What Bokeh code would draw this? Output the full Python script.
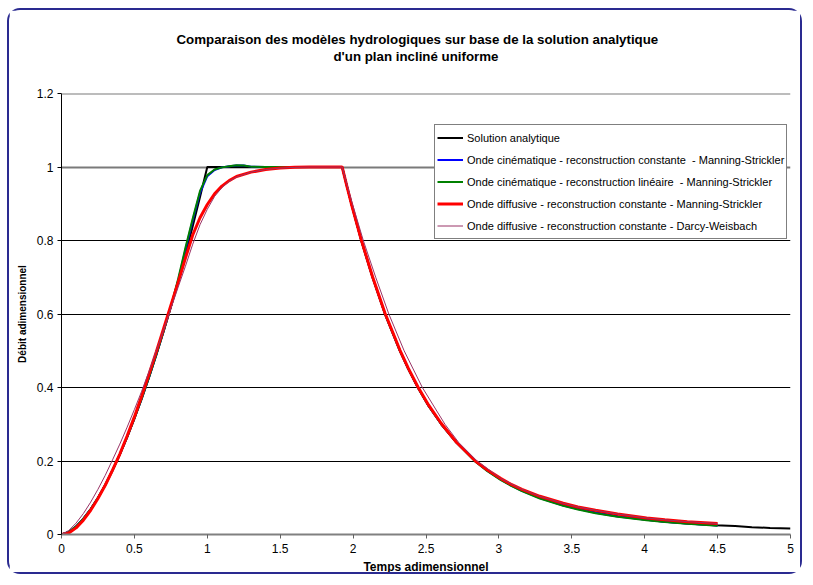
from bokeh.plotting import figure
from bokeh.models import Range1d, Title, CustomJSTickFormatter, FixedTicker, Grid, Span
from bokeh.embed import file_html
from bokeh.resources import INLINE

# ---------------- data ----------------
title_line1 = "Comparaison des modèles hydrologiques sur base de la solution analytique"
title_line2 = "d'un plan incliné uniforme"
x_label = "Temps adimensionnel"
y_label = "Débit adimensionnel"

x_ticks = [0, 0.5, 1, 1.5, 2, 2.5, 3, 3.5, 4, 4.5, 5]
y_ticks = [0, 0.2, 0.4, 0.6, 0.8, 1.0, 1.2]
grid_dark = [0.2, 0.4, 0.6, 0.8]
grid_grey = [1.0]
y_top = 1.2

names = [
    "Solution analytique",
    "Onde cinématique - reconstruction constante  - Manning-Strickler",
    "Onde cinématique - reconstruction linéaire  - Manning-Strickler",
    "Onde diffusive - reconstruction constante - Manning-Strickler",
    "Onde diffusive - reconstruction constante - Darcy-Weisbach",
]

# Solution analytique
t_ana = [0, 0.05, 0.1, 0.15, 0.2, 0.25, 0.3, 0.35, 0.4, 0.45, 0.5, 0.55, 0.6, 0.65, 0.7,
         0.75, 0.8, 0.85, 0.9, 0.95, 1.0, 1.925, 1.956, 1.988, 2.056, 2.133, 2.219, 2.321,
         2.379, 2.444, 2.518, 2.605, 2.709, 2.839, 2.919, 3.014, 3.081, 3.158, 3.281, 3.441,
         3.542, 3.663, 3.814, 4.013, 4.138, 4.292, 4.485, 4.62, 4.735, 4.86, 5.0]
q_ana = [0, 0.0068, 0.0215, 0.0423, 0.0684, 0.0992, 0.1345, 0.1738, 0.2172, 0.2642, 0.315,
         0.3692, 0.4268, 0.4877, 0.5519, 0.6191, 0.6894, 0.7627, 0.839, 0.9181, 1.0, 1.0,
         0.95, 0.9, 0.8, 0.7, 0.6, 0.5, 0.45, 0.4, 0.35, 0.3, 0.25, 0.2, 0.175, 0.15, 0.135,
         0.12, 0.1, 0.08, 0.07, 0.06, 0.05, 0.04, 0.035, 0.03, 0.025, 0.023, 0.02, 0.018, 0.0162]

# Onde cinématique - reconstruction constante
t_kin_c = [0, 0.05, 0.1, 0.15, 0.2, 0.25, 0.3, 0.35, 0.4, 0.45, 0.5, 0.55, 0.6, 0.65, 0.7,
           0.75, 0.8, 0.85, 0.9, 0.95, 1.0, 1.05, 1.1, 1.15, 1.2, 1.25, 1.3, 1.4, 1.925,
           1.956, 1.988, 2.056, 2.133, 2.219, 2.321, 2.379, 2.444, 2.518, 2.605, 2.709, 2.839,
           2.919, 3.014, 3.081, 3.158, 3.281, 3.441, 3.542, 3.663, 3.814, 4.013, 4.138, 4.292,
           4.5]
q_kin_c = [0, 0.007, 0.022, 0.043, 0.069, 0.1, 0.135, 0.175, 0.218, 0.265, 0.316, 0.37,
           0.428, 0.489, 0.553, 0.62, 0.69, 0.775, 0.855, 0.93, 0.975, 0.992, 0.999, 1.002,
           1.004, 1.004, 1.001, 1.0, 1.0, 0.95, 0.9, 0.8, 0.7, 0.6, 0.5, 0.45, 0.4, 0.35, 0.3,
           0.25, 0.199, 0.174, 0.149, 0.134, 0.119, 0.099, 0.079, 0.069, 0.059, 0.049, 0.04,
           0.035, 0.03, 0.0245]

# Onde cinématique - reconstruction linéaire
t_kin_l = [0, 0.05, 0.1, 0.15, 0.2, 0.25, 0.3, 0.35, 0.4, 0.45, 0.5, 0.55, 0.6, 0.65, 0.7,
           0.75, 0.8, 0.85, 0.9, 0.95, 1.0, 1.05, 1.1, 1.15, 1.2, 1.25, 1.3, 1.4, 1.925,
           1.956, 1.988, 2.056, 2.133, 2.219, 2.321, 2.379, 2.444, 2.518, 2.605, 2.709, 2.839,
           2.919, 3.014, 3.081, 3.158, 3.281, 3.441, 3.542, 3.663, 3.814, 4.013, 4.138, 4.292,
           4.5]
q_kin_l = [0, 0.007, 0.022, 0.043, 0.069, 0.1, 0.135, 0.175, 0.218, 0.265, 0.316, 0.37,
           0.428, 0.489, 0.553, 0.62, 0.695, 0.78, 0.86, 0.935, 0.978, 0.993, 0.999, 1.002,
           1.005, 1.004, 1.001, 1.0, 1.0, 0.95, 0.9, 0.8, 0.7, 0.6, 0.5, 0.45, 0.4, 0.35, 0.3,
           0.25, 0.198, 0.173, 0.148, 0.133, 0.118, 0.098, 0.078, 0.068, 0.058, 0.048, 0.039,
           0.034, 0.029, 0.024]

# Onde diffusive - reconstruction constante - Manning-Strickler
t_dif_m = [0, 0.05, 0.1, 0.15, 0.2, 0.25, 0.3, 0.35, 0.4, 0.45, 0.5, 0.55, 0.6, 0.65, 0.7,
           0.75, 0.8, 0.85, 0.9, 0.95, 1.0, 1.05, 1.1, 1.15, 1.2, 1.3, 1.4, 1.5, 1.6, 1.7,
           1.925, 1.956, 1.988, 2.056, 2.133, 2.219, 2.321, 2.379, 2.444, 2.518, 2.605, 2.709,
           2.839, 2.919, 3.014, 3.081, 3.158, 3.281, 3.441, 3.542, 3.663, 3.814, 4.013, 4.138,
           4.292, 4.5]
q_dif_m = [0, 0.004, 0.018, 0.039, 0.066, 0.098, 0.134, 0.175, 0.219, 0.268, 0.32, 0.377,
           0.436, 0.497, 0.56, 0.623, 0.686, 0.752, 0.815, 0.862, 0.898, 0.927, 0.948, 0.963,
           0.974, 0.986, 0.993, 0.997, 0.999, 1.0, 1.0, 0.95, 0.9, 0.802, 0.702, 0.602, 0.502,
           0.452, 0.402, 0.352, 0.302, 0.251, 0.2, 0.176, 0.152, 0.137, 0.123, 0.104, 0.085,
           0.075, 0.066, 0.056, 0.045, 0.04, 0.035, 0.03]

# Onde diffusive - reconstruction constante - Darcy-Weisbach
t_dif_d = [0, 0.05, 0.1, 0.15, 0.2, 0.25, 0.3, 0.35, 0.4, 0.45, 0.5, 0.55, 0.6, 0.65, 0.7,
           0.75, 0.8, 0.85, 0.9, 0.95, 1.0, 1.05, 1.1, 1.15, 1.2, 1.3, 1.4, 1.5, 1.6, 1.7,
           1.925, 1.96, 1.995, 2.07, 2.155, 2.245, 2.35, 2.475, 2.63, 2.725, 2.85, 3.014,
           3.158, 3.281, 3.441, 3.542, 3.663, 3.814, 4.013, 4.138, 4.292, 4.5]
q_dif_d = [0, 0.011, 0.031, 0.057, 0.088, 0.123, 0.161, 0.203, 0.246, 0.292, 0.34, 0.39,
           0.443, 0.5, 0.557, 0.615, 0.673, 0.73, 0.79, 0.843, 0.885, 0.92, 0.944, 0.961,
           0.973, 0.986, 0.993, 0.997, 0.999, 1.0, 1.0, 0.95, 0.9, 0.8, 0.7, 0.6, 0.5, 0.4,
           0.3, 0.25, 0.2, 0.152, 0.123, 0.104, 0.085, 0.075, 0.066, 0.056, 0.045, 0.04,
           0.035, 0.03]

series = [
    (t_ana, q_ana, "#000000", 2),
    (t_kin_c, q_kin_c, "#0000FF", 2),
    (t_kin_l, q_kin_l, "#008000", 2),
    (t_dif_m, q_dif_m, "#FF0000", 3),
    (t_dif_d, q_dif_d, "#993366", 1),
]

# ---------------- figure ----------------
FONT = "Liberation Sans"

p = figure(width=795, height=566, output_backend="svg", toolbar_location=None,
           x_range=Range1d(0, 5), y_range=Range1d(0, y_top),
           min_border_left=52, min_border_right=14, min_border_top=83, min_border_bottom=40,
           title=title_line1)
p.styles = {"border": "2px solid #2a2a90", "border-radius": "13px",
            "margin-left": "7px", "margin-top": "8px"}
p.background_fill_color = "white"
p.border_fill_color = "white"
p.outline_line_color = None

# outer title line (line 1)
p.title.align = "left"
p.title.text_font = FONT
p.title.text_font_size = "13.3px"
p.title.text_font_style = "bold"
p.title.text_color = "black"
p.title.standoff = 0
p.title.offset = 115
# empty spacer between the title block and the plot area (closest to the plot)
spacer = Title(text=" ", text_font=FONT, text_font_size="10px", standoff=16)
p.add_layout(spacer, "above")
# second title line
t2 = Title(text=title_line2, align="left", text_font=FONT, text_font_size="13.3px",
           text_font_style="bold", text_color="black", standoff=1, offset=272)
p.add_layout(t2, "above")

fmt = "return String(Number(tick.toFixed(2)));"
p.xaxis.ticker = FixedTicker(ticks=x_ticks)
p.yaxis.ticker = FixedTicker(ticks=y_ticks)
p.xaxis.formatter = CustomJSTickFormatter(code=fmt)
p.yaxis.formatter = CustomJSTickFormatter(code=fmt)
for ax in (p.xaxis[0], p.yaxis[0]):
    ax.major_label_text_font = FONT
    ax.major_label_text_font_size = "12px"
    ax.major_label_text_color = "black"
    ax.axis_label_text_font = FONT
    ax.axis_label_text_font_style = "bold"
    ax.axis_label_text_color = "black"
    ax.major_tick_in = 0
    ax.major_tick_out = 4
    ax.minor_tick_line_color = None
p.xaxis.axis_label = x_label
p.yaxis.axis_label = y_label
p.xaxis.axis_label_text_font_size = "12px"
p.yaxis.axis_label_text_font_size = "10px"
p.xaxis.major_label_standoff = 5
p.yaxis.major_label_standoff = 4
p.xaxis.axis_label_standoff = 4
p.yaxis.axis_label_standoff = 6
p.yaxis.axis_line_color = "black"
p.yaxis.major_tick_line_color = "black"
p.xaxis.axis_line_color = "#808080"
p.xaxis.axis_line_width = 2
p.xaxis.major_tick_line_color = "#606060"

p.xgrid.visible = False
p.ygrid.ticker = FixedTicker(ticks=grid_dark)
p.ygrid.grid_line_color = "black"
p.ygrid.grid_line_width = 1
grey_grid = Grid(dimension=1, ticker=FixedTicker(ticks=grid_grey),
                 grid_line_color="#7a7a7a", grid_line_width=2)
p.add_layout(grey_grid)
# top gridline at the upper limit of the value axis
p.add_layout(Span(location=y_top, dimension="width", line_color="#7a7a7a", line_width=2))

for (tt, qq, col, lw), name in zip(series, names):
    p.line(tt, qq, line_color=col, line_width=lw, legend_label=name)

lg = p.legend[0]
lg.location = (373, 295)
lg.label_text_font = FONT
lg.label_text_font_size = "11px"
lg.label_text_color = "black"
lg.glyph_width = 26
lg.glyph_height = 21
lg.label_height = 21
lg.label_standoff = 4
lg.spacing = 1
lg.padding = 2
lg.margin = 0
lg.border_line_color = "black"
lg.border_line_width = 1
lg.background_fill_color = "white"
lg.background_fill_alpha = 1

open("out.html", "w").write(file_html(p, INLINE))
